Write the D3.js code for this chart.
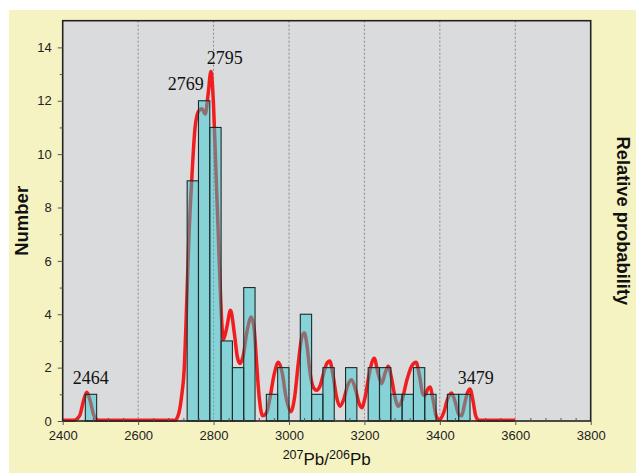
<!DOCTYPE html>
<html>

<head>
    <title>Pb-Pb histogram</title>
    <style>
        body {
            margin: 0;
            padding: 0;
            background-color: #ffffff;
        }
    </style>
</head>

<body>
    <div id="container"></div>

    <script src="https://d3js.org/d3.v7.min.js"></script>

    <script>
        // histogram bins (30 Ma wide) and counts
        var binStart = [2460, 2730, 2760, 2790, 2820, 2850, 2880, 2940, 2970, 3030, 3060, 3090,
            3150, 3210, 3240, 3270, 3300, 3330, 3360, 3420, 3450];
        var binCount = [1, 9, 12, 11, 3, 2, 5, 1, 2, 4, 1, 2,
            2, 2, 2, 1, 1, 2, 1, 1, 1];
        var binWidth = 30;

        // relative probability curve (in "Number" units)
        var curveAge = [2400, 2430, 2445, 2455, 2464, 2473, 2483, 2495, 2600, 2698, 2708, 2715, 2722, 2729,
            2735, 2742, 2751, 2760, 2769, 2778, 2786, 2793, 2800, 2806, 2813, 2819, 2826, 2835, 2845,
            2855, 2863, 2870, 2878, 2888, 2900, 2908, 2914, 2920, 2930, 2940, 2950, 2960, 2972, 2982,
            2992, 3005, 3015, 3025, 3035, 3041, 3048, 3056, 3065, 3073, 3082, 3092, 3100, 3108, 3117,
            3126, 3135, 3145, 3156, 3166, 3176, 3185, 3193, 3202, 3212, 3220, 3226, 3236, 3246, 3255,
            3263, 3272, 3281, 3290, 3300, 3312, 3325, 3337, 3346, 3355, 3360, 3368, 3374, 3382, 3390,
            3398, 3410, 3420, 3431, 3440, 3450, 3458, 3465, 3473, 3480, 3488, 3495, 3503, 3600];
        var curveProb = [0.03, 0.03, 0.2, 0.75, 1.08, 0.75, 0.2, 0.03, 0.03, 0.03, 0.3, 0.9, 1.9, 4.5,
            7.0, 9.0, 11.0, 11.6, 11.7, 11.5, 12.3, 13.1, 11.8, 9.5, 6.8, 4.5, 3.05, 3.5, 4.15,
            3.3, 2.4, 2.15, 2.4, 3.3, 3.9, 3.4, 2.2, 1.05, 0.2, 0.3, 0.9, 1.7, 2.2, 1.8,
            0.9, 0.35, 0.9, 2.2, 3.2, 3.3, 2.8, 1.8, 1.25, 1.15, 1.3, 1.8, 2.15, 2.25, 1.7,
            0.9, 0.55, 0.8, 1.35, 1.55, 1.2, 0.7, 0.5, 0.9, 1.7, 2.2, 2.35, 1.8, 1.4, 1.8,
            2.05, 1.6, 0.9, 0.55, 0.8, 1.5, 2.05, 2.2, 1.7, 1.0, 0.95, 1.2, 1.27, 0.8, 0.2,
            0.04, 0.3, 0.8, 1.05, 0.75, 0.25, 0.2, 0.6, 1.05, 1.2, 0.75, 0.2, 0.03, 0.03];

        // labelled peaks
        var peakAges = [2464, 2769, 2795, 3479];
        var peakLabels = ["2464", "2769", "2795", "3479"];

        var xTicks = [2400, 2600, 2800, 3000, 3200, 3400, 3600, 3800];
        var yTicks = [0, 2, 4, 6, 8, 10, 12, 14];

        var width = 636, height = 473;
        var plot = { left: 62.7, right: 590.7, top: 20.7, bottom: 421 };

        var svg = d3.select("#container").append("svg")
            .attr("width", width)
            .attr("height", height);

        var x = d3.scaleLinear().domain([2400, 3800]).range([plot.left, plot.right]);
        var y = d3.scaleLinear().domain([0, 15]).range([plot.bottom, plot.top]);

        // yellow panel
        svg.append("rect")
            .attr("x", 9).attr("y", 10)
            .attr("width", width - 9).attr("height", height - 10)
            .style("fill", "#f6f3c2");

        // plot area
        svg.append("rect")
            .attr("x", plot.left).attr("y", plot.top)
            .attr("width", plot.right - plot.left).attr("height", plot.bottom - plot.top)
            .style("fill", "#dadbdd");

        // dashed grid
        svg.selectAll(".grid")
            .data(xTicks.slice(1, -1))
            .enter().append("line")
            .attr("x1", d => x(d)).attr("x2", d => x(d))
            .attr("y1", plot.top).attr("y2", plot.bottom)
            .style("stroke", "#8a8a8a")
            .style("stroke-width", 1)
            .style("stroke-dasharray", "2,2");

        // red probability curve, drawn under the bars
        var line = d3.line()
            .x((d, i) => x(curveAge[i]))
            .y(d => y(d))
            .curve(d3.curveMonotoneX);

        svg.append("path")
            .attr("d", line(curveProb))
            .style("fill", "none")
            .style("stroke", "#ef1f1f")
            .style("stroke-width", 3.5)
            .style("stroke-linejoin", "round");

        // bars (semi transparent so the curve shows through)
        svg.selectAll(".bar")
            .data(binCount)
            .enter().append("rect")
            .attr("x", (d, i) => x(binStart[i]))
            .attr("y", d => y(d))
            .attr("width", (d, i) => x(binStart[i] + binWidth) - x(binStart[i]))
            .attr("height", d => y(0) - y(d))
            .style("fill", "rgba(40,200,206,0.47)")
            .style("stroke", "#1e2a2a")
            .style("stroke-width", 1.1);

        // border
        svg.append("rect")
            .attr("x", plot.left).attr("y", plot.top)
            .attr("width", plot.right - plot.left).attr("height", plot.bottom - plot.top)
            .style("fill", "none")
            .style("stroke", "#222")
            .style("stroke-width", 1.6);

        // axes
        var xAxis = svg.append("g")
            .attr("transform", "translate(0," + plot.bottom + ")")
            .call(d3.axisBottom(x).tickValues(xTicks).tickSize(4).tickPadding(6).tickFormat(d3.format("d")));
        var xMinor = svg.append("g")
            .attr("transform", "translate(0," + plot.bottom + ")")
            .call(d3.axisTop(x).tickValues(d3.range(2440, 3800, 40).filter(d => (d - 2400) % 200 != 0))
                .tickSize(3).tickFormat(""));

        var yAxis = svg.append("g")
            .attr("transform", "translate(" + plot.left + ",0)")
            .call(d3.axisLeft(y).tickValues(yTicks).tickSize(5).tickPadding(6));
        var yMinor = svg.append("g")
            .attr("transform", "translate(" + plot.left + ",0)")
            .call(d3.axisLeft(y).tickValues(d3.range(1, 15, 2)).tickSize(3).tickFormat(""));

        [xAxis, xMinor, yAxis, yMinor].forEach(function (g) {
            g.select(".domain").remove();
            g.selectAll("line").style("stroke", "#555");
            g.selectAll("text")
                .style("font-family", "Liberation Sans, Arial, sans-serif")
                .style("font-size", "13px")
                .style("fill", "#222");
        });

        // peak labels
        var labelDx = [4, -16, 13, 6];
        var labelBase = [384, 90, 64, 383.7];
        svg.selectAll(".peak")
            .data(peakLabels)
            .enter().append("text")
            .attr("x", (d, i) => x(peakAges[i]) + labelDx[i])
            .attr("y", (d, i) => labelBase[i])
            .attr("text-anchor", "middle")
            .style("font-family", "Liberation Serif, Times New Roman, serif")
            .style("font-size", "18px")
            .style("fill", "#111")
            .text(d => d);

        // axis titles
        var xt = svg.append("text")
            .attr("x", (plot.left + plot.right) / 2)
            .attr("y", 465.3)
            .attr("text-anchor", "middle")
            .style("font-family", "Liberation Sans, Arial, sans-serif")
            .style("font-size", "17px")
            .style("fill", "#111");
        xt.append("tspan").attr("dy", -6).style("font-size", "12.5px").text("207");
        xt.append("tspan").attr("dy", 6).text("Pb/");
        xt.append("tspan").attr("dy", -6).style("font-size", "12.5px").text("206");
        xt.append("tspan").attr("dy", 6).text("Pb");

        svg.append("text")
            .attr("transform", "translate(28," + ((plot.top + plot.bottom) / 2) + ") rotate(-90)")
            .attr("text-anchor", "middle")
            .style("font-family", "Liberation Sans, Arial, sans-serif")
            .style("font-size", "18.5px")
            .style("font-weight", "bold")
            .style("fill", "#111")
            .text("Number");

        svg.append("text")
            .attr("transform", "translate(617," + ((plot.top + plot.bottom) / 2) + ") rotate(90)")
            .attr("text-anchor", "middle")
            .style("font-family", "Liberation Sans, Arial, sans-serif")
            .style("font-size", "18.3px")
            .style("font-weight", "bold")
            .style("fill", "#111")
            .text("Relative probability");
    </script>
</body>

</html>
